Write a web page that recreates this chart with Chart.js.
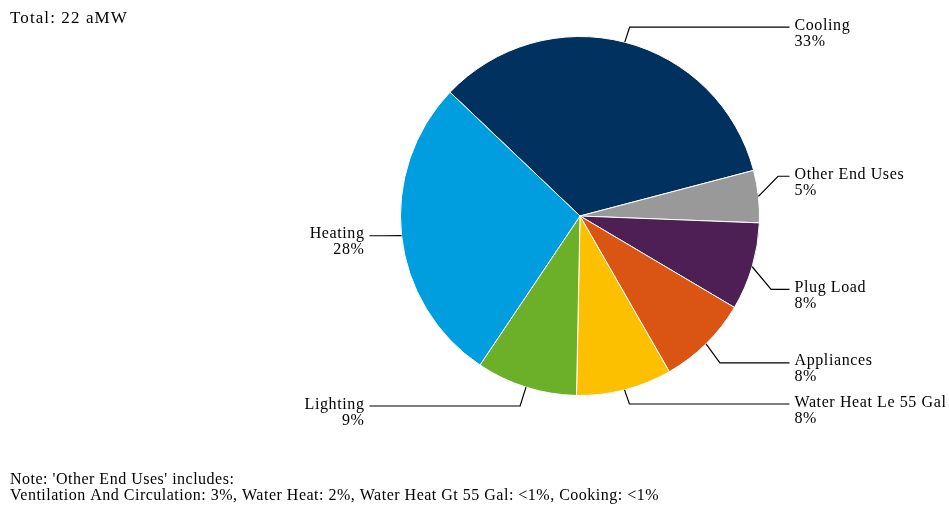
<!DOCTYPE html>
<html>
<head>
<meta charset="utf-8">
<script src="https://cdn.jsdelivr.net/npm/chart.js@4.4.0/dist/chart.umd.min.js"></script>
<style>
    html, body { margin: 0; padding: 0; background: #ffffff; }
    #wrap { width: 949px; height: 506px; position: relative; }
</style>
</head>
<body>
<div id="wrap"><canvas id="endUseChart"></canvas></div>
<script>
const endUses = ['Cooling', 'Other End Uses', 'Plug Load', 'Appliances', 'Water Heat Le 55 Gal', 'Lighting', 'Heating'];
const shares = [33.8, 4.7, 7.9, 8.2, 8.6, 9.1, 27.7];
const shareLabels = ['33%', '5%', '8%', '8%', '8%', '9%', '28%'];
const sliceColors = ['#00315f', '#999999', '#4d1f55', '#da5513', '#fcc000', '#6cb02a', '#009ddf'];
const totalText = 'Total: 22 aMW';
const noteLines = [
    "Note: 'Other End Uses' includes:",
    'Ventilation And Circulation: 3%, Water Heat: 2%, Water Heat Gt 55 Gal: <1%, Cooking: <1%'
];

const serif = '"Liberation Serif", "DejaVu Serif", serif';

// leader lines + labels, plus the total and the note
const calloutPlugin = {
    id: 'callouts',
    afterDraw(chart, args, opts) {
        const ctx = chart.ctx;
        const meta = chart.getDatasetMeta(0);
        ctx.save();
        ctx.fillStyle = '#000000';
        ctx.strokeStyle = '#000000';
        ctx.lineWidth = 1.2;
        ctx.font = '16px ' + serif;
        ctx.letterSpacing = '0.6px';
        ctx.textBaseline = 'alphabetic';

        meta.data.forEach(function(arc, i) {
            const p = arc.getProps(['x', 'y', 'startAngle', 'endAngle', 'outerRadius'], true);
            const mid = (p.startAngle + p.endAngle) / 2;
            const cos = Math.cos(mid), sin = Math.sin(mid);
            const r = p.outerRadius;
            const sx = p.x + cos * r, sy = p.y + sin * r;
            const ex = p.x + cos * r * 1.11;
            const ey = p.y + sin * r * 1.11 + (opts.nudge[i] || 0);
            const right = cos >= 0;
            const endX = right ? p.x + r + 30 : p.x - r - 31;

            ctx.beginPath();
            ctx.moveTo(sx, sy);
            ctx.lineTo(ex, ey);
            ctx.lineTo(endX, ey);
            ctx.stroke();

            ctx.textAlign = right ? 'left' : 'right';
            const tx = right ? endX + 5 : endX - 5;
            ctx.fillText(endUses[i], tx, ey + 2.5);
            ctx.fillText(shareLabels[i], tx, ey + 18.5);
        });

        ctx.textAlign = 'left';
        ctx.font = '17px ' + serif;
        ctx.letterSpacing = '1.1px';
        ctx.fillText(totalText, 10, 23);

        ctx.font = '16px ' + serif;
        ctx.letterSpacing = '0.5px';
        ctx.fillText(noteLines[0], 10, 484);
        ctx.fillText(noteLines[1], 10, 500);
        ctx.restore();
    }
};

new Chart(document.getElementById('endUseChart').getContext('2d'), {
    type: 'pie',
    data: {
        labels: endUses,
        datasets: [{
            data: shares,
            backgroundColor: sliceColors,
            borderColor: '#ffffff',
            borderWidth: 1,
            hoverOffset: 0
        }]
    },
    options: {
        responsive: true,
        maintainAspectRatio: false,
        animation: false,
        events: [],
        rotation: -46.4,
        layout: {
            padding: { left: 400, right: 189, top: 36, bottom: 110 }
        },
        plugins: {
            legend: { display: false },
            tooltip: { enabled: false },
            callouts: { nudge: [4, -18, 17, 5, -5, 0, -2] }
        }
    },
    plugins: [calloutPlugin]
});
</script>
</body>
</html>
